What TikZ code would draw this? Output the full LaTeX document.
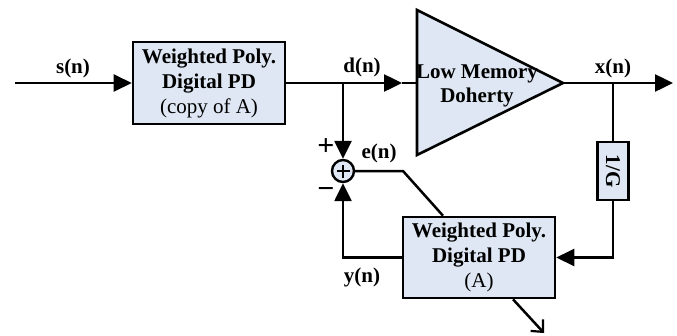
\documentclass[tikz,border=0pt]{standalone}
\usepackage{fontspec}
\setmainfont{Liberation Serif}
\usetikzlibrary{arrows.meta}
\definecolor{boxfill}{RGB}{222,231,243}
\begin{document}
\begin{tikzpicture}[x=1pt,y=-1pt,
  every node/.style={font=\fontsize{21}{25}\selectfont},
  box/.style={draw, line width=2.6pt, fill=boxfill, align=center, inner sep=0pt},
  conn/.style={line width=2.5pt},
  arr/.style={conn, -{Triangle[length=18pt,width=17pt]}},
  barb/.style={conn, -{Straight Barb[length=9pt,width=17pt,line width=2.2pt]}},
  lbl/.style={font=\fontsize{21}{24}\selectfont\bfseries},
  sign/.style={font=\fontsize{30}{30}\selectfont\bfseries, inner sep=0pt}]
\useasboundingbox (0,0) rectangle (677,335);

% blocks
\node[box, minimum width=152pt, minimum height=82pt] (pd1) at (209,83)
  {\textbf{Weighted Poly.}\\\textbf{Digital PD}\\(copy of A)};
\node[box, minimum width=152pt, minimum height=81pt] (pd2) at (479,257.5)
  {\textbf{Weighted Poly.}\\\textbf{Digital PD}\\(A)};
\node[box, minimum width=31pt, minimum height=58pt] (g) at (613,171)
  {\rotatebox{-90}{\textbf{1/G}}};

% amplifier
\draw[line width=2.6pt, fill=boxfill] (417,10) -- (563,83) -- (417,155) -- cycle;
\coordinate (ampin) at (417,83);
\coordinate (ampout) at (563,83);
\node[lbl, align=center] (amptext) at (477,86) {Low Memory\\Doherty};

% summing junction
\node[circle, draw, line width=2.4pt, fill=boxfill, minimum size=22pt, inner sep=0pt] (sum) at (343,171) {};
\draw[line width=2.6pt] ([xshift=-6.5pt]sum.center) -- ([xshift=6.5pt]sum.center)
  ([yshift=-6.5pt]sum.center) -- ([yshift=6.5pt]sum.center);

% coordinates
\coordinate (in) at (15,83);
\coordinate (dsplit) at (343,83);
\coordinate (dtip) at (402,83);
\coordinate (xsplit) at (613,83);
\coordinate (out) at (673,83);
\coordinate (ebend) at (403,171);
\coordinate (outA) at (544,333);

% connectors
\draw[arr] (in) -- (pd1.west);
\draw[arr] (pd1.east) -- (dtip);
\draw[conn] (dtip) -- (ampin);
\draw[arr] (dsplit) -- (sum.north);
\draw[arr] (ampout) -- (out);
\draw[conn] (xsplit) -- (g.north);
\draw[arr] (g.south) |- (pd2.east);
\draw[arr] (pd2.west) -| (sum.south);
\draw[conn] (sum.east) -- (ebend) -- ([xshift=-36pt]pd2.north);
\draw[barb] ([xshift=34pt]pd2.south) -- (outA);

% labels
\node[lbl] (sl) at (73,68) {s(n)};
\node[lbl] (dl) at (362,67) {d(n)};
\node[lbl] (xl) at (613,68) {x(n)};
\node[lbl] (el) at (379,153) {e(n)};
\node[lbl] (yl) at (362,277) {y(n)};
\node[sign] (pl) at (326,147) {+};
\node[sign] (ml) at (326,193) {−};
\end{tikzpicture}
\end{document}
